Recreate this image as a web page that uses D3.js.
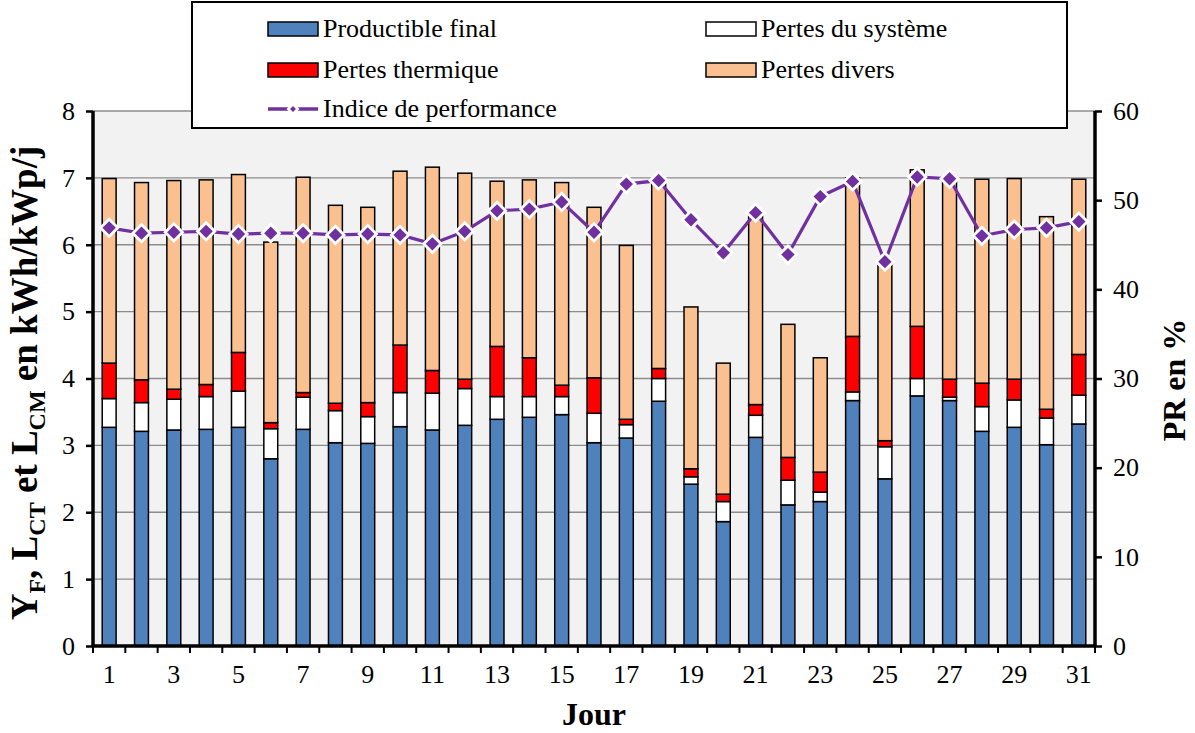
<!DOCTYPE html>
<html><head><meta charset="utf-8">
<script src="https://cdn.jsdelivr.net/npm/d3@7"></script>
<style>body{margin:0;background:#fff}svg{display:block}svg text{font-family:'Liberation Serif'}</style>
</head><body>
<svg id="c" width="1195" height="733"></svg>
<script>
const days = d3.range(1, 32);
const productible = [3.27,3.21,3.23,3.24,3.27,2.80,3.24,3.04,3.03,3.28,3.23,3.30,3.39,3.42,3.46,3.04,3.11,3.66,2.42,1.86,3.12,2.11,2.16,3.67,2.50,3.74,3.67,3.21,3.27,3.01,3.32];
const pertesSysteme = [0.43,0.43,0.46,0.49,0.54,0.45,0.48,0.48,0.40,0.51,0.55,0.55,0.34,0.31,0.27,0.44,0.20,0.34,0.11,0.30,0.33,0.37,0.14,0.13,0.48,0.26,0.05,0.37,0.41,0.40,0.43];
const pertesThermique = [0.53,0.34,0.15,0.18,0.58,0.09,0.07,0.11,0.21,0.71,0.34,0.14,0.75,0.58,0.17,0.53,0.08,0.15,0.12,0.11,0.16,0.34,0.30,0.83,0.09,0.78,0.27,0.35,0.31,0.13,0.61];
const pertesDivers = [2.76,2.95,3.12,3.06,2.66,2.70,3.22,2.96,2.92,2.60,3.04,3.08,2.47,2.66,3.03,2.55,2.60,2.80,2.42,1.96,2.83,1.99,1.71,2.37,2.67,2.34,3.03,3.05,3.00,2.88,2.62];
const indicePerf = [46.9,46.3,46.4,46.5,46.2,46.3,46.3,46.1,46.2,46.1,45.1,46.5,48.8,49.0,49.8,46.4,51.8,52.2,47.8,44.1,48.6,43.9,50.4,52.1,43.1,52.6,52.4,46.0,46.7,46.9,47.6];
const leftTicks = [0,1,2,3,4,5,6,7,8];
const rightTicks = [0,10,20,30,40,50,60];
const xLabels = days.filter(d => d % 2 === 1);

const seriesNames = ["Productible final","Pertes du système","Pertes thermique","Pertes divers"];
const seriesColors = ["#4f81bd","#ffffff","#ff0000","#fac090"];
const lineName = "Indice de performance";
const lineColor = "#7030a0";

const L = 93, R = 1095, T = 111, B = 646;
const FONT = "'Liberation Serif'";
const svg = d3.select("#c");

const x = d3.scaleBand().domain(days).range([L, R]).paddingInner(0.57).paddingOuter(0.285);
const y = d3.scaleLinear().domain([0, 8]).range([B, T]);
const y2 = d3.scaleLinear().domain([0, 60]).range([B, T]);

// background
svg.append("rect").attr("x", L).attr("y", T).attr("width", R - L).attr("height", B - T).attr("fill", "#f2f2f2");
// gridlines
svg.append("g").selectAll("line").data(leftTicks.filter(d => d > 0)).join("line")
  .attr("x1", L).attr("x2", R).attr("y1", d => y(d)).attr("y2", d => y(d))
  .attr("stroke", "#8c8c8c").attr("stroke-width", 1.3);

// stacked bars
const table = days.map((d, i) => ({day: d, s0: productible[i], s1: pertesSysteme[i], s2: pertesThermique[i], s3: pertesDivers[i]}));
const stack = d3.stack().keys(["s0","s1","s2","s3"])(table);
svg.append("g").selectAll("g").data(stack).join("g")
  .attr("fill", (d, i) => seriesColors[i])
  .selectAll("rect").data(d => d).join("rect")
  .attr("x", d => x(d.data.day)).attr("width", x.bandwidth())
  .attr("y", d => y(d[1])).attr("height", d => y(d[0]) - y(d[1]))
  .attr("stroke", "#000").attr("stroke-width", 1.5);

// line
const line = d3.line().x((d, i) => x(days[i]) + x.bandwidth() / 2).y(d => y2(d));
svg.append("path").datum(indicePerf).attr("d", line).attr("fill", "none").attr("stroke", lineColor).attr("stroke-width", 3.2);
const diamond = d3.symbol().type(d3.symbolSquare).size(150);
svg.append("g").selectAll("path").data(indicePerf).join("path")
  .attr("d", diamond)
  .attr("transform", (d, i) => `translate(${x(days[i]) + x.bandwidth() / 2},${y2(d)}) rotate(45)`)
  .attr("fill", lineColor).attr("stroke", "#fff").attr("stroke-width", 2.8);

// axes
const fs = "26px";
const axL = svg.append("g").attr("transform", `translate(${L},0)`)
  .call(d3.axisLeft(y).tickValues(leftTicks).tickSize(7).tickPadding(11).tickFormat(d3.format("d")));
const axR = svg.append("g").attr("transform", `translate(${R},0)`)
  .call(d3.axisRight(y2).tickValues(rightTicks).tickSize(7).tickPadding(11).tickFormat(d3.format("d")));
const axB = svg.append("g").attr("transform", `translate(0,${B})`)
  .call(d3.axisBottom(x).tickValues(xLabels).tickSize(0).tickPadding(19));
// category boundary ticks
svg.append("g").selectAll("line").data(d3.range(0, 32)).join("line")
  .attr("x1", i => L + i * (R - L) / 31).attr("x2", i => L + i * (R - L) / 31)
  .attr("y1", B).attr("y2", B + 7).attr("stroke", "#000").attr("stroke-width", 2);
[axL, axR, axB].forEach(a => {
  a.attr("font-family", null);
  a.selectAll("text").style("font-family", FONT).style("font-size", fs).attr("fill", "#000");
  a.selectAll("line").attr("stroke", "#000").attr("stroke-width", 2.5);
  a.select(".domain").attr("stroke", "#000").attr("stroke-width", 3.5);
});
axL.select(".domain").attr("d", `M0,${B}V${T}`);
axR.select(".domain").attr("d", `M0,${B}V${T}`);
axB.select(".domain").attr("d", `M${L},0H${R}`);

// axis titles
svg.append("text").attr("x", 594).attr("y", 725).attr("text-anchor", "middle")
  .style("font-family", FONT).style("font-size", "32px").style("font-weight", "bold").text("Jour");
const lt = svg.append("text").attr("transform", "translate(37,383) rotate(-90)").attr("text-anchor", "middle")
  .style("font-family", FONT).style("font-size", "37px").style("font-weight", "bold");
const parts = [["Y",0],["F",1],[", L",0],["CT",1],[" et L",0],["CM",1],[" en kWh/kWp/j",0]];
let sub = false;
parts.forEach(([t, s]) => {
  const dy = s ? (sub ? 0 : 8) : (sub ? -8 : 0);
  lt.append("tspan").style("font-size", s ? "24px" : "37px").attr("dy", dy).text(t);
  sub = !!s;
});
svg.append("text").attr("transform", "translate(1185,380) rotate(-90)").attr("text-anchor", "middle")
  .style("font-family", FONT).style("font-size", "32px").style("font-weight", "bold").text("PR en %");

// legend
svg.append("rect").attr("x", 192).attr("y", 2).attr("width", 875).attr("height", 126)
  .attr("fill", "#fff").attr("stroke", "#000").attr("stroke-width", 2);
const legPos = [[268, 29],[706, 29],[268, 70],[706, 70]];
seriesNames.forEach((n, i) => {
  const [lx, ly] = legPos[i];
  svg.append("rect").attr("x", lx).attr("y", ly - 7).attr("width", 50).attr("height", 14)
    .attr("fill", seriesColors[i]).attr("stroke", "#000").attr("stroke-width", 1.5);
  svg.append("text").attr("x", lx + 55).attr("y", ly + 8)
    .style("font-family", FONT).style("font-size", fs).text(n);
});
svg.append("line").attr("x1", 268).attr("x2", 318).attr("y1", 109).attr("y2", 109)
  .attr("stroke", lineColor).attr("stroke-width", 3.5);
svg.append("path").attr("d", d3.symbol().type(d3.symbolSquare).size(45))
  .attr("transform", "translate(293,109) rotate(45)").attr("fill", lineColor).attr("stroke", "#fff").attr("stroke-width", 2.5);
svg.append("text").attr("x", 323).attr("y", 117)
  .style("font-family", FONT).style("font-size", fs).text(lineName);
</script>
</body></html>
